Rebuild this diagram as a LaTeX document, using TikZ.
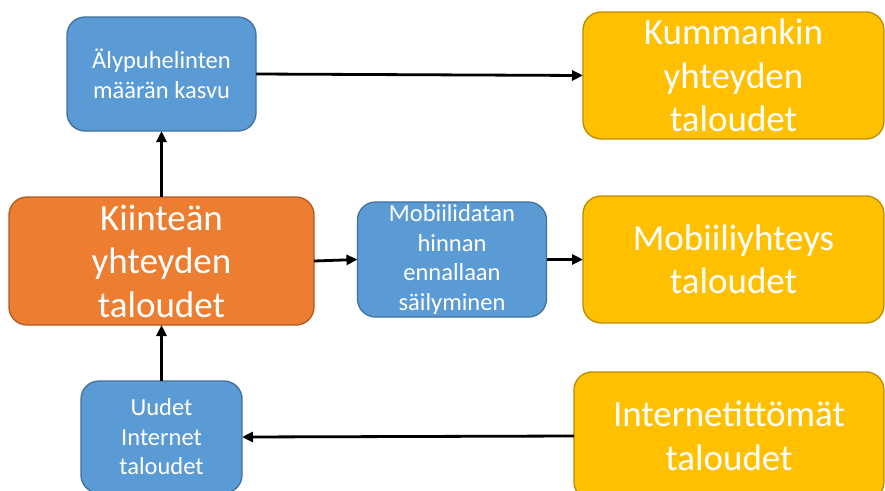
\documentclass[tikz,border=0pt]{standalone}
\usepackage{fontspec}
\setmainfont{Carlito}
\usetikzlibrary{arrows.meta}
\definecolor{boxblue}{HTML}{5B9BD5}
\definecolor{lineblue}{HTML}{41719C}
\definecolor{boxorange}{HTML}{ED7D31}
\definecolor{lineorange}{HTML}{AE5A21}
\definecolor{boxgold}{HTML}{FFC000}
\definecolor{linegold}{HTML}{BC8C00}
\tikzset{
  card/.style={rectangle, rounded corners=18pt, line width=1.3pt, text=white,
    align=center, inner sep=0pt, outer sep=0pt},
  smallcard/.style={card, fill=boxblue, draw=lineblue,
    font=\fontsize{24.5}{29.5}\selectfont},
  bigcard/.style={card, font=\fontsize{37}{43.5}\selectfont},
  goldcard/.style={bigcard, fill=boxgold, draw=linegold},
  orangecard/.style={bigcard, fill=boxorange, draw=lineorange},
  flow/.style={line width=2.8pt, -{Triangle[length=11pt,width=10pt]}}
}
\begin{document}
\begin{tikzpicture}[x=1pt, y=-1pt]
\useasboundingbox (0,0) rectangle (885,490);
\clip (0,0) rectangle (885,490);
\fill[white] (0,0) rectangle (885,490);

% left column and middle step
\node[smallcard, minimum width=189pt, minimum height=114pt] (smart) at (161.5,74) {Älypuhelinten\\määrän kasvu};
\node[orangecard, minimum width=305pt, minimum height=128pt] (fixed) at (161.5,261) {Kiinteän\\yhteyden\\taloudet};
\node[smallcard, minimum width=161pt, minimum height=112pt] (newnet) at (161.5,437) {Uudet\\Internet\\taloudet};
\node[smallcard, minimum width=189pt, minimum height=115pt] (price) at (452,259.5) {Mobiilidatan\\hinnan\\ennallaan\\säilyminen};

% household groups on the right
\node[goldcard, minimum width=301pt, minimum height=127pt] (both) at (733.5,75.5) {Kummankin\\yhteyden\\taloudet};
\node[goldcard, minimum width=301pt, minimum height=127pt] (mobile) at (733.5,259.5) {Mobiiliyhteys\\taloudet};
\node[goldcard, minimum width=310pt, minimum height=128pt] (offline) at (729,436) {Internetittömät\\taloudet};

% connectors
\draw[flow] (fixed.north) -- (smart.south);
\draw[flow] (newnet.north) -- (fixed.south);
\draw[flow] (smart.east) -- (both.west);
\draw[flow] (fixed.east) -- (price.west);
\draw[flow] (price.east) -- (mobile.west);
\draw[flow] (offline.west) -- (newnet.east);
\end{tikzpicture}
\end{document}
